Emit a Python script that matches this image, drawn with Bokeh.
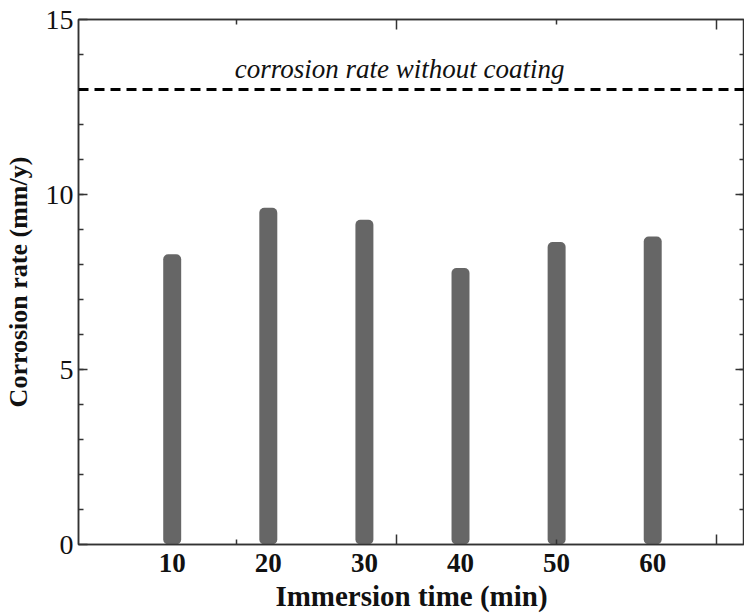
from bokeh.plotting import figure
from bokeh.models import (ColumnDataSource, Range1d, LinearAxis, FixedTicker,
                          Span, Label)
from bokeh.embed import file_html
from bokeh.resources import INLINE

# ---- data ----
immersion_time = [10, 20, 30, 40, 50, 60]
corrosion_rate = [8.29, 9.62, 9.28, 7.9, 8.64, 8.8]
uncoated_rate = 13.0
x_major_ticks = [33.35, 66.65]
x_minor_ticks = [16.7, 50.0]
y_major_ticks = [0, 5, 10, 15]
y_minor_ticks = list(range(1, 15))

SERIF = "Liberation Serif"
AX = "#333333"

p = figure(width=744, height=614, output_backend="svg", toolbar_location=None,
           x_range=Range1d(0.25, 69.55), y_range=Range1d(0, 15),
           x_axis_location=None, y_axis_location=None,
           min_border_left=76, min_border_right=0, min_border_top=19,
           min_border_bottom=70)
p.grid.visible = False
p.outline_line_color = AX
p.outline_line_width = 1.5
p.background_fill_color = "white"
p.border_fill_color = "white"

src = ColumnDataSource(dict(x=immersion_time, top=corrosion_rate))
p.vbar(x="x", top="top", bottom=0, width=1.87, source=src,
       fill_color="#666666", line_color=None, border_radius=5)

p.add_layout(Span(location=uncoated_rate, dimension="width", line_color="black",
                  line_width=3, line_dash="10 6"))
p.add_layout(Label(x=16.5, y=uncoated_rate, y_offset=21,
                   text="corrosion rate without coating",
                   text_font=SERIF, text_font_style="italic",
                   text_font_size="27px", text_color="#111111",
                   text_baseline="alphabetic"))

def tick_style(ax, major_in, minor_in):
    ax.major_tick_in = major_in
    ax.major_tick_out = 0
    ax.minor_tick_in = minor_in
    ax.minor_tick_out = 0
    ax.axis_line_color = AX
    ax.axis_line_width = 1.5
    ax.major_tick_line_color = AX
    ax.minor_tick_line_color = AX
    ax.major_tick_line_width = 1.5
    ax.minor_tick_line_width = 1.5

# bottom tick marks (no labels)
xb = LinearAxis(ticker=FixedTicker(ticks=x_major_ticks, minor_ticks=x_minor_ticks))
tick_style(xb, 10, 5)
xb.major_label_text_font_size = "0px"
xb.major_label_standoff = 0
xb.major_label_overrides = {t: "" for t in x_major_ticks}
p.add_layout(xb, "below")

# bottom labels
xl = LinearAxis(ticker=FixedTicker(ticks=immersion_time, minor_ticks=[]))
xl.axis_line_color = None
xl.major_tick_line_color = None
xl.minor_tick_line_color = None
xl.major_tick_in = 0
xl.major_tick_out = 0
xl.major_label_standoff = 9
xl.major_label_text_font = SERIF
xl.major_label_text_font_style = "bold"
xl.major_label_text_font_size = "27px"
xl.major_label_text_color = "#111111"
xl.axis_label = "Immersion time (min)"
xl.axis_label_text_font = SERIF
xl.axis_label_text_font_style = "bold"
xl.axis_label_text_font_size = "29px"
xl.axis_label_text_color = "#111111"
xl.axis_label_standoff = 5
p.add_layout(xl, "below")

# top tick marks
xt = LinearAxis(ticker=FixedTicker(ticks=x_major_ticks, minor_ticks=x_minor_ticks))
tick_style(xt, 10, 5)
xt.major_label_text_font_size = "0px"
xt.major_label_standoff = 0
xt.major_label_overrides = {t: "" for t in x_major_ticks}
p.add_layout(xt, "above")

# left axis
yl = LinearAxis(ticker=FixedTicker(ticks=y_major_ticks, minor_ticks=y_minor_ticks))
tick_style(yl, 9, 5)
yl.major_label_standoff = 5
yl.major_label_text_font = SERIF
yl.major_label_text_font_size = "28px"
yl.major_label_text_color = "#111111"
yl.axis_label = "Corrosion rate (mm/y)"
yl.axis_label_text_font = SERIF
yl.axis_label_text_font_style = "bold"
yl.axis_label_text_font_size = "26px"
yl.axis_label_text_color = "#111111"
yl.axis_label_standoff = 10
p.add_layout(yl, "left")

# right axis
yr = LinearAxis(ticker=FixedTicker(ticks=[5, 10], minor_ticks=y_minor_ticks))
tick_style(yr, 9, 5)
yr.major_label_text_font_size = "0px"
yr.major_label_standoff = 0
yr.major_label_overrides = {5: "", 10: ""}
p.add_layout(yr, "right")

open("out.html", "w").write(file_html(p, INLINE))
